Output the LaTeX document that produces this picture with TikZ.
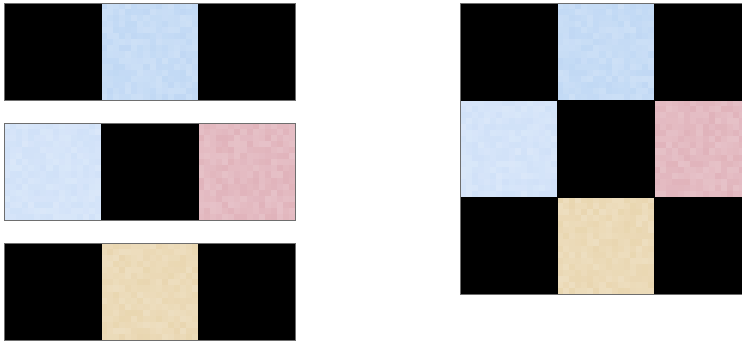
\documentclass[tikz,border=0pt]{standalone}
\definecolor{topblue}{RGB}{192,216,244}
\definecolor{sideblue}{RGB}{208,225,248}
\definecolor{pinkc}{RGB}{224,178,186}
\definecolor{tanc}{RGB}{233,214,176}
\definecolor{framegray}{RGB}{110,110,110}
\tikzset{
  cell/.style={draw=black, line width=0.6pt, minimum size=97pt, inner sep=0pt, outer sep=0pt, anchor=north west},
  blk/.style={cell, fill=black},
  rowframe/.style={draw=framegray, line width=0.9pt}
}
\newcommand\texcell[3]{%
  \foreach \i in {0,...,15}{%
    \foreach \j in {0,...,15}{%
      \pgfmathsetmacro\pp{int(80+20*rnd)}%
      \fill[#3!\pp!white] ({#1+\i*97/16},{#2+\j*97/16}) rectangle +(6.4,6.4);
    }%
  }%
}
\begin{document}
\begin{tikzpicture}[x=1pt,y=-1pt]
\pgfmathsetseed{7}
\useasboundingbox (0,0) rectangle (742,342);
\clip (0,0) rectangle (742,342);
% left row 1
\node[blk] (a1) at (4,3) {};
\texcell{101}{3}{topblue}
\node[cell] (a2) at (101,3) {};
\node[blk] (a3) at (198,3) {};
\draw[rowframe] (a1.north west) rectangle (a3.south east);
% left row 2
\texcell{4}{123}{sideblue}
\node[cell] (b1) at (4,123) {};
\node[blk] (b2) at (101,123) {};
\texcell{198}{123}{pinkc}
\node[cell] (b3) at (198,123) {};
\draw[rowframe] (b1.north west) rectangle (b3.south east);
% left row 3
\node[blk] (c1) at (4,243) {};
\texcell{101}{243}{tanc}
\node[cell] (c2) at (101,243) {};
\node[blk] (c3) at (198,243) {};
\draw[rowframe] (c1.north west) rectangle (c3.south east);
% right grid
\node[blk] (g11) at (460,3) {};
\texcell{557}{3}{topblue}
\node[cell] (g12) at (557,3) {};
\node[blk] (g13) at (654,3) {};
\texcell{460}{100}{sideblue}
\node[cell] (g21) at (460,100) {};
\node[blk] (g22) at (557,100) {};
\texcell{654}{100}{pinkc}
\node[cell] (g23) at (654,100) {};
\node[blk] (g31) at (460,197) {};
\texcell{557}{197}{tanc}
\node[cell] (g32) at (557,197) {};
\node[blk] (g33) at (654,197) {};
\draw[rowframe] (g11.north west) rectangle (g33.south east);
\end{tikzpicture}
\end{document}
